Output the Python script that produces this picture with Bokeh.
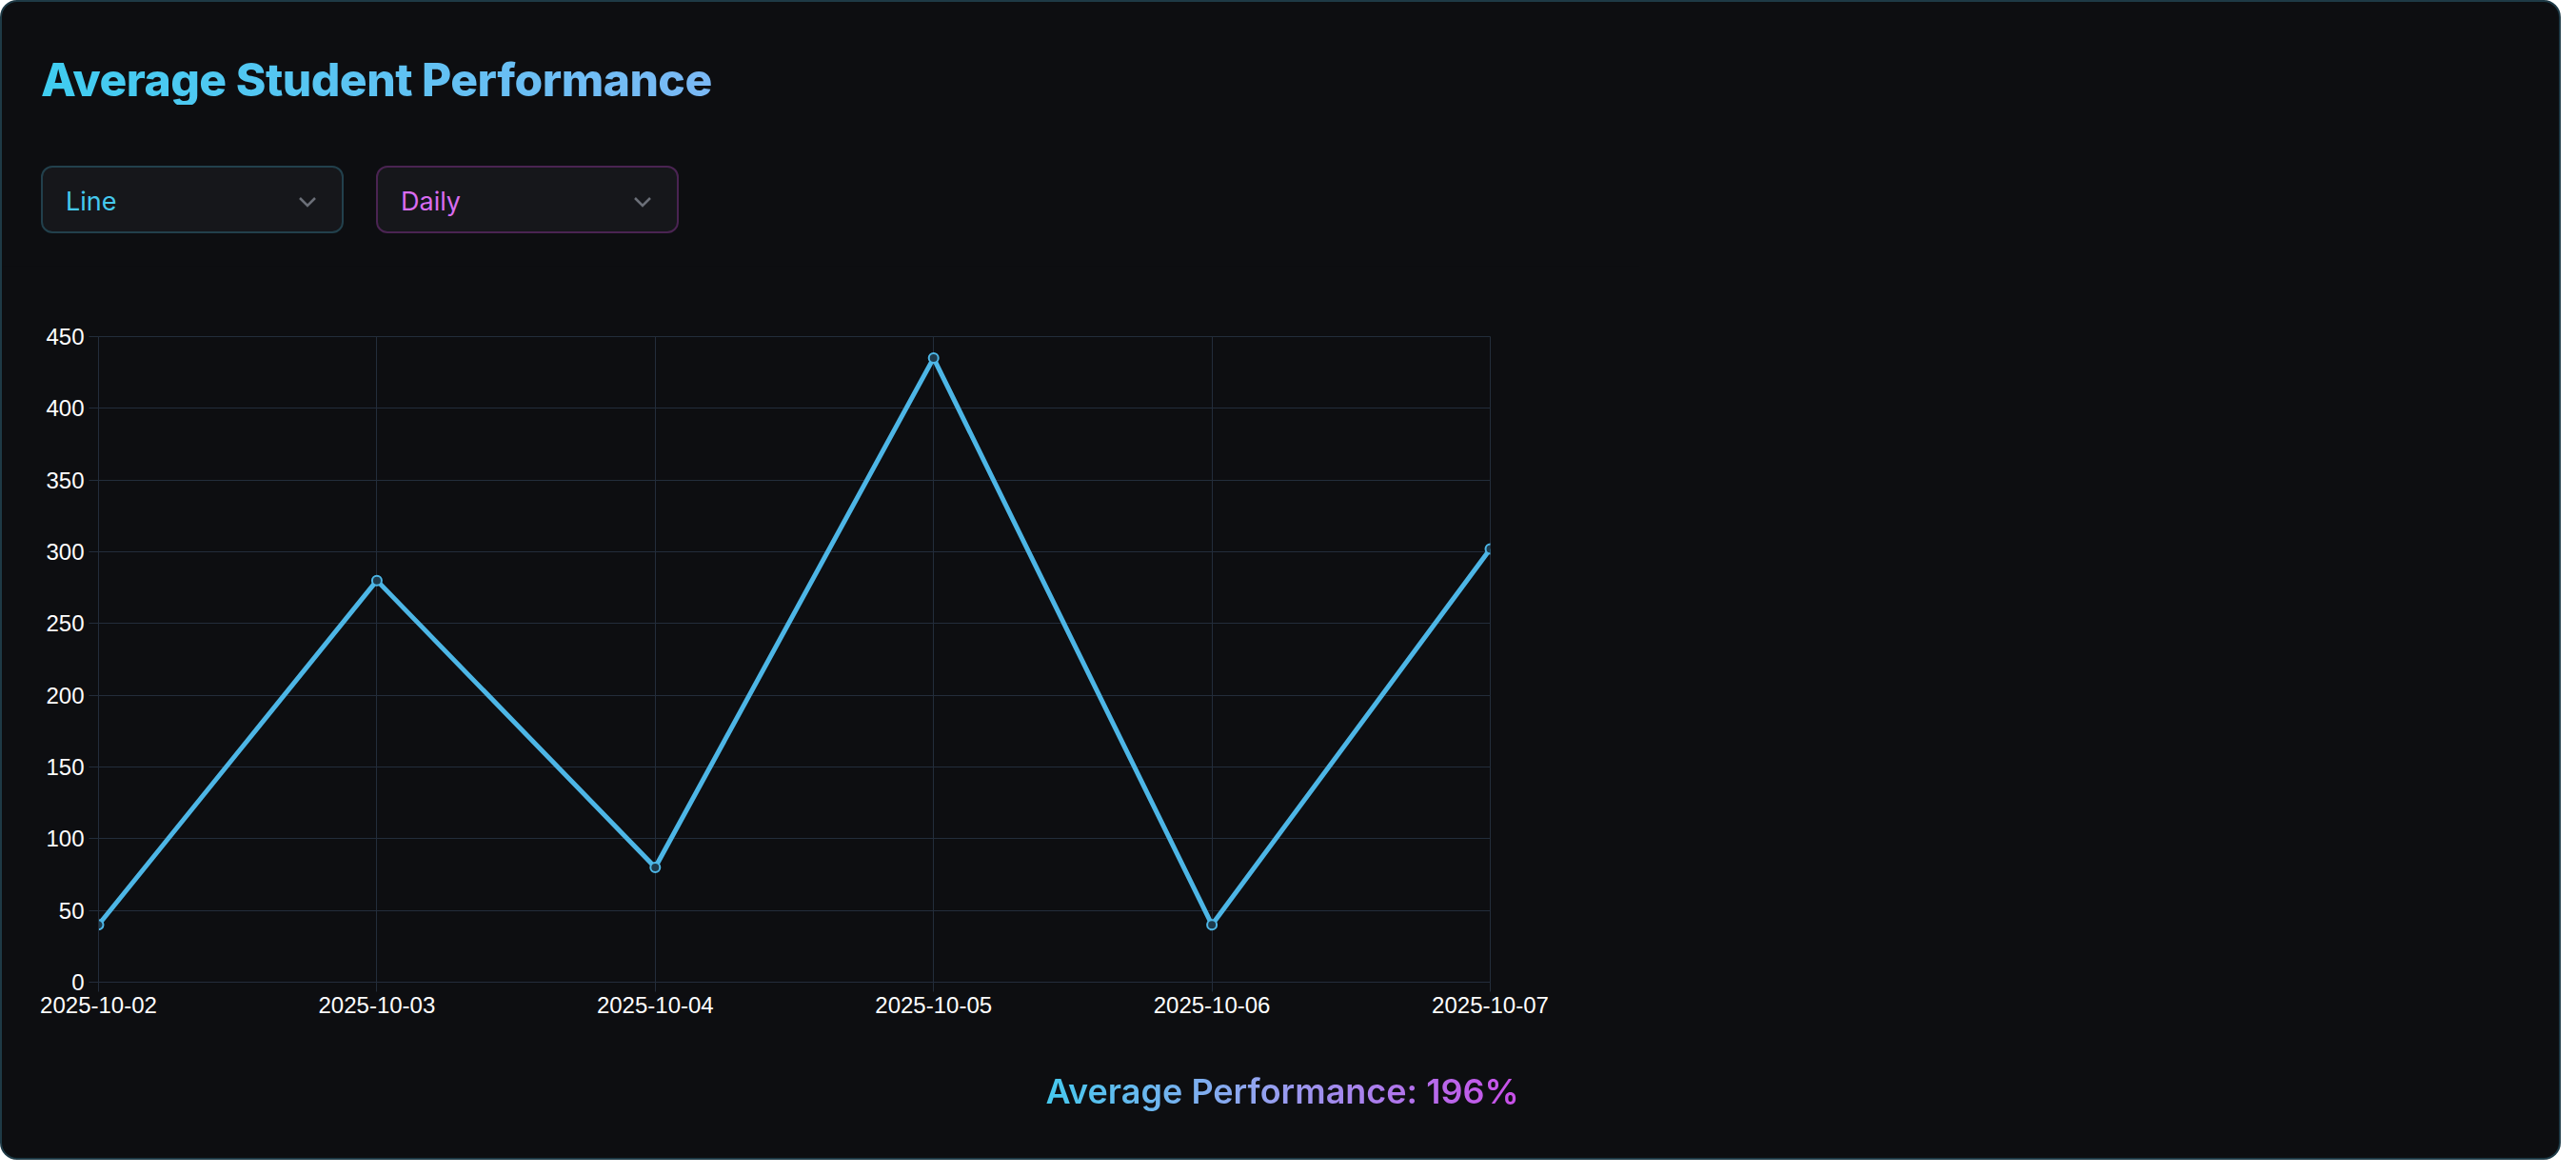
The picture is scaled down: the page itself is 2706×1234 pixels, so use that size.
from bokeh.plotting import figure
from bokeh.models import Div, Column, Row, Legend, LegendItem, FixedTicker, ColumnDataSource, Range1d
from bokeh.embed import file_html
from bokeh.resources import INLINE

dates = ["2025-10-02", "2025-10-03", "2025-10-04", "2025-10-05", "2025-10-06", "2025-10-07"]
performance = [40, 280, 80, 435, 40, 302]
y_ticks = [0, 50, 100, 150, 200, 250, 300, 350, 400, 450]
series_name = "Average Performance"
title_text = "Average Student Performance"
chart_types = ["Line"]
periods = ["Daily"]
summary_text = "Average Performance: 196%"

BG = "#0d0e11"
LINE = "#4db6e6"
GRID = "#232d3b"
W = 2690
NAN = float("nan")

title = Div(text=title_text, width=1200, height=52, margin=(56, 0, 0, 41), styles={
    "font-family": "Inter", "font-size": "48px", "font-weight": "800", "line-height": "52px",
    "letter-spacing": "-0.5px",
    "background": "linear-gradient(90deg,#3fcdf0,#7cb8f5 60%,#93a8f2)",
    "-webkit-background-clip": "text", "background-clip": "text", "color": "transparent",
    "-webkit-text-fill-color": "transparent"})

def dropdown(label, color, border, left):
    chevron = ('<svg width="20" height="12" style="position:absolute;right:26px;top:30px">'
               '<polyline points="2,2 10,10 18,2" fill="none" stroke="#6b6f78" stroke-width="2.5"/></svg>')
    return Div(text=f'<div style="position:relative;width:314px;height:67px;border:2px solid {border};'
                    f'border-radius:12px;background:#16171b;box-sizing:content-box">'
                    f'<span style="position:absolute;left:24px;top:17px;font-family:Inter;font-size:27px;'
                    f'color:{color}">{label}</span>{chevron}</div>',
               width=318, height=71, margin=(0, 0, 0, left))

row = Row(children=[dropdown(chart_types[0], "#45c9ee", "#22404c", 41),
                    dropdown(periods[0], "#d96cf0", "#4a2452", 34)],
          margin=(64, 0, 0, 0), spacing=0)

xs = list(range(len(dates)))
src = ColumnDataSource(dict(x=xs, y=performance))
FRAME_H = 678
p = figure(width=1720, height=74 + FRAME_H + 60, output_backend="svg", toolbar_location=None,
           x_range=Range1d(0, len(dates) - 1), y_range=Range1d(0, 450),
           background_fill_color=BG, border_fill_color=BG, outline_line_color=GRID,
           min_border_left=101, min_border_right=157, min_border_top=74, min_border_bottom=60,
           margin=(34, 0, 0, 0))
r = p.line("x", "y", source=src, line_color=LINE, line_width=5)
p.scatter("x", "y", source=src, size=10, line_color=LINE, line_width=2, fill_color="#1d3a4c")
sw = p.quad(left=[NAN], right=[NAN], top=[NAN], bottom=[NAN], fill_color="#1e3444",
            line_color=LINE, line_width=5)
leg = Legend(items=[LegendItem(label=series_name, renderers=[sw])], orientation="horizontal",
             location=(561, FRAME_H + 12), background_fill_alpha=0, border_line_alpha=0,
             label_text_color="#ffffff", label_text_font="Liberation Sans", label_text_font_size="24px",
             glyph_width=78, glyph_height=26, margin=0, padding=6, label_standoff=10)
p.add_layout(leg, "center")
for ax in (p.xaxis[0], p.yaxis[0]):
    ax.axis_line_color = GRID
    ax.major_tick_line_color = GRID
    ax.minor_tick_line_color = None
    ax.major_tick_out = 10
    ax.major_tick_in = 0
    ax.major_label_text_color = "#ffffff"
    ax.major_label_text_font = "Liberation Sans"
    ax.major_label_text_font_size = "24px"
p.xaxis.ticker = FixedTicker(ticks=xs)
p.xaxis.major_label_overrides = {i: d for i, d in enumerate(dates)}
p.yaxis.ticker = FixedTicker(ticks=y_ticks)
p.xgrid.grid_line_color = GRID
p.ygrid.grid_line_color = GRID
p.xgrid.ticker = FixedTicker(ticks=xs)
p.ygrid.ticker = FixedTicker(ticks=y_ticks)

summary = Div(text=f'<div style="width:{W}px;text-align:center"><span style="font-family:Inter;font-size:36px;'
                   'font-weight:600;background:linear-gradient(90deg,#45c9ee,#93a4f0 45%,#c94ee8);'
                   '-webkit-background-clip:text;background-clip:text;color:transparent;'
                   f'-webkit-text-fill-color:transparent">{summary_text}</span></div>',
              width=W, height=50, margin=(30, 0, 0, 0))

layout = Column(children=[title, row, p, summary], width=W, height=1218, spacing=0,
                styles={"background-color": BG, "border": "2px solid #1e3a46", "border-radius": "18px",
                        "box-sizing": "border-box"})
open("out.html", "w").write(file_html(layout, INLINE))
